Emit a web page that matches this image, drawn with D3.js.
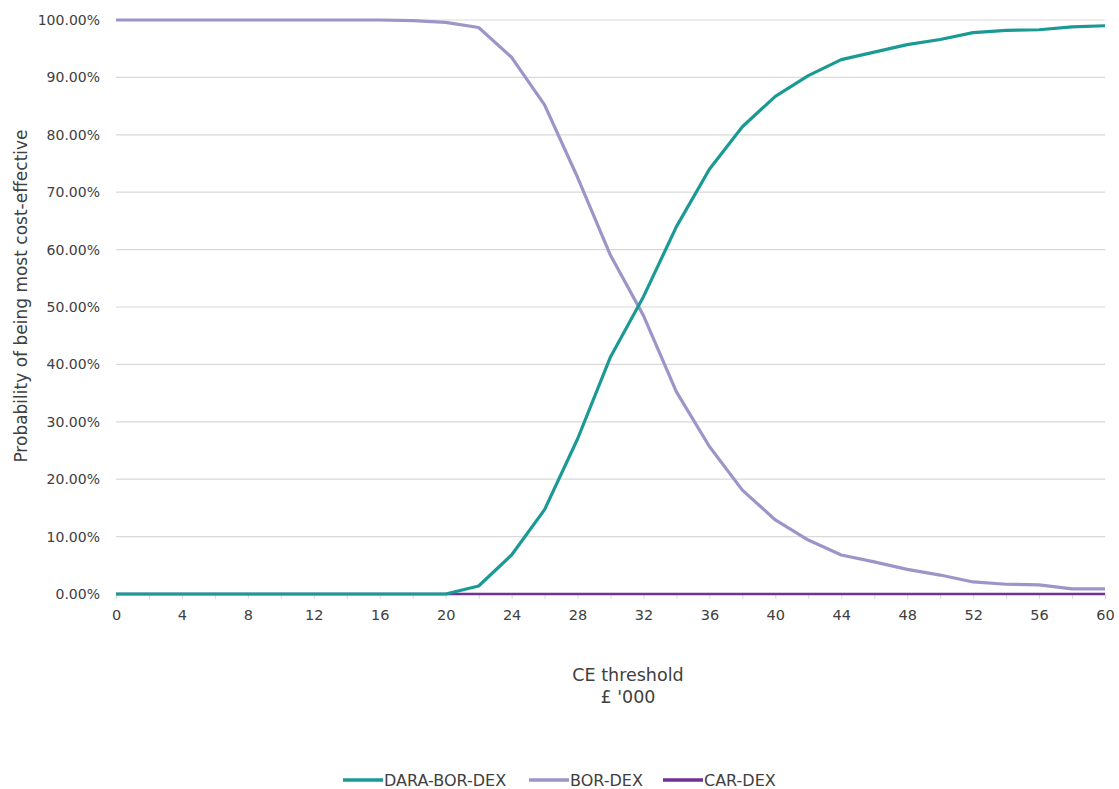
<!DOCTYPE html>
<html><head><meta charset="utf-8">
<script src="https://cdn.jsdelivr.net/npm/d3@7"></script>
<style>
body{margin:0;background:#fff;}
text{font-family:"DejaVu Sans",sans-serif;}
</style></head>
<body><svg id="c" width="1119" height="789"></svg>
<script>
const thresholds = [0,2,4,6,8,10,12,14,16,18,20,22,24,26,28,30,32,34,36,38,40,42,44,46,48,50,52,54,56,58,60];
const daraBorDex = [0,0,0,0,0,0,0,0,0,0,0,1.4,6.8,14.7,27.0,41.3,51.8,64.0,74.0,81.4,86.7,90.3,93.1,94.4,95.7,96.6,97.8,98.2,98.3,98.8,99.0];
const borDex     = [100,100,100,100,100,100,100,100,100,99.9,99.6,98.7,93.5,85.2,72.6,59.0,48.5,35.2,25.7,18.1,12.9,9.4,6.8,5.6,4.3,3.3,2.1,1.7,1.6,0.9,0.9];
const carDex     = [0,0,0,0,0,0,0,0,0,0,0,0,0,0,0,0,0,0,0,0,0,0,0,0,0,0,0,0,0,0,0];
const seriesNames = ["DARA-BOR-DEX","BOR-DEX","CAR-DEX"];
const seriesColors = ["#1b9a95","#9d95c8","#6e3395"];
const yTicks = [0,10,20,30,40,50,60,70,80,90,100];
const xTicks = [0,4,8,12,16,20,24,28,32,36,40,44,48,52,56,60];

const svg = d3.select("#c");
const x = d3.scaleLinear().domain([0,60]).range([116,1105]);
const y = d3.scaleLinear().domain([0,100]).range([594,20]);
const FONT = "'DejaVu Sans',sans-serif";

// gridlines
svg.append("g").selectAll("line").data(yTicks.filter(d=>d>0)).join("line")
  .attr("x1",x(0)).attr("x2",x(60)).attr("y1",d=>y(d)).attr("y2",d=>y(d))
  .attr("stroke","#d9d9d9").attr("stroke-width",1.2);

// y axis labels
const yAxis = d3.axisLeft(y).tickValues(yTicks).tickSize(0).tickPadding(0)
  .tickFormat(d=>d3.format(".2f")(d)+"%");
const gy = svg.append("g").attr("transform",`translate(${x(0)-16},0)`).call(yAxis);
gy.select(".domain").remove();
gy.selectAll("text").attr("font-size",14).attr("fill","#404040").attr("font-family",FONT);

// x axis
const xAxis = d3.axisBottom(x).tickValues(d3.range(0,61,2)).tickSize(5).tickPadding(11)
  .tickFormat(d=>xTicks.includes(d)?d:"");
const gx = svg.append("g").attr("transform",`translate(0,${y(0)})`).call(xAxis);
gx.select(".domain").attr("stroke","#d9d9d9").attr("stroke-width",1.2);
gx.selectAll(".tick line").attr("stroke","#d9d9d9");
gx.selectAll("text").attr("font-size",14.5).attr("fill","#404040").attr("font-family",FONT);

// lines
const data = [daraBorDex,borDex,carDex];
const line = d3.line().x((d,i)=>x(thresholds[i])).y(d=>y(d));
[2,1,0].forEach(k=>{
  svg.append("path").datum(data[k]).attr("d",line).attr("fill","none")
    .attr("stroke",seriesColors[k]).attr("stroke-width",k===2?2.6:3.2)
    .attr("stroke-linejoin","round");
});

// axis titles
svg.append("text").attr("transform",`translate(27,296) rotate(-90)`)
  .attr("text-anchor","middle").attr("font-size",17).attr("fill","#404040")
  .text("Probability of being most cost-effective");
svg.append("text").attr("x",628).attr("y",681).attr("text-anchor","middle")
  .attr("font-size",17.5).attr("fill","#404040").text("CE threshold");
svg.append("text").attr("x",628).attr("y",703).attr("text-anchor","middle")
  .attr("font-size",17.5).attr("fill","#404040").text("£ '000");

// legend
const legX = [343,529,663];
const lg = svg.append("g");
seriesNames.forEach((n,i)=>{
  lg.append("line").attr("x1",legX[i]).attr("x2",legX[i]+40).attr("y1",780).attr("y2",780)
    .attr("stroke",seriesColors[i]).attr("stroke-width",3.5);
  lg.append("text").attr("x",legX[i]+41).attr("y",786).attr("font-size",16)
    .attr("fill","#404040").text(n);
});
</script></body></html>
